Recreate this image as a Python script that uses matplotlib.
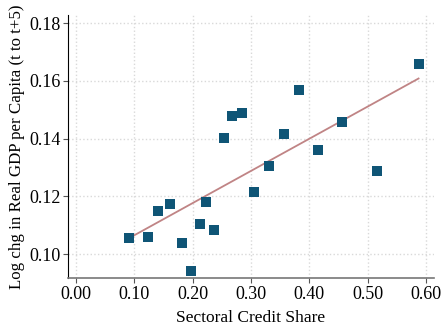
import numpy as np
import matplotlib.pyplot as plt

plt.rcParams['font.family'] = ['Liberation Serif', 'DejaVu Serif']

# sectoral credit share vs 5-year log change in real GDP per capita
credit_share = [0.091, 0.124, 0.141, 0.162, 0.181, 0.198, 0.213, 0.223, 0.237, 0.254,
                0.268, 0.285, 0.305, 0.331, 0.357, 0.383, 0.415, 0.457, 0.517, 0.588]
gdp_chg = [0.1055, 0.1060, 0.1149, 0.1174, 0.1039, 0.0942, 0.1105, 0.1180, 0.1083, 0.1403,
           0.1479, 0.1489, 0.1216, 0.1306, 0.1417, 0.1569, 0.1361, 0.1458, 0.1288, 0.1659]

# fitted line end points
fit_x = [0.091, 0.5875]
fit_y = [0.1055, 0.1608]

xticks = [0.0, 0.1, 0.2, 0.3, 0.4, 0.5, 0.6]
yticks = [0.10, 0.12, 0.14, 0.16, 0.18]

fig = plt.figure(figsize=(4.43, 3.25), dpi=100)
ax = fig.add_axes([68 / 443, 1 - 278 / 325, (434 - 68) / 443, (278 - 15) / 325])

ax.plot(fit_x, fit_y, color='#c08485', lw=1.3, zorder=2)
ax.scatter(credit_share, gdp_chg, marker='s', s=42, color='#0f5576', zorder=3, linewidths=0)

ax.set_xlim(-0.0137, 0.614)
ax.set_ylim(0.0917, 0.1828)
ax.set_xticks(xticks)
ax.set_xticklabels(['%.2f' % v for v in xticks])
ax.set_yticks(yticks)
ax.set_yticklabels(['%.2f' % v for v in yticks])

ax.grid(True, color='#d9d9d9', linestyle=':', lw=1)
ax.set_axisbelow(True)
for s in ['top', 'right']:
    ax.spines[s].set_visible(False)
ax.spines['left'].set_color('black')
ax.spines['bottom'].set_color('#777777')
ax.spines['bottom'].set_linewidth(1.2)
ax.tick_params(axis='both', labelsize=13, color='#555555', length=3.5, pad=2)

ax.set_xlabel('Sectoral Credit Share', fontsize=12.5, labelpad=5)
ax.set_ylabel('Log chg in Real GDP per Capita (t to t+5)', fontsize=12.2, labelpad=3)

fig.savefig('out.png', dpi=100)
